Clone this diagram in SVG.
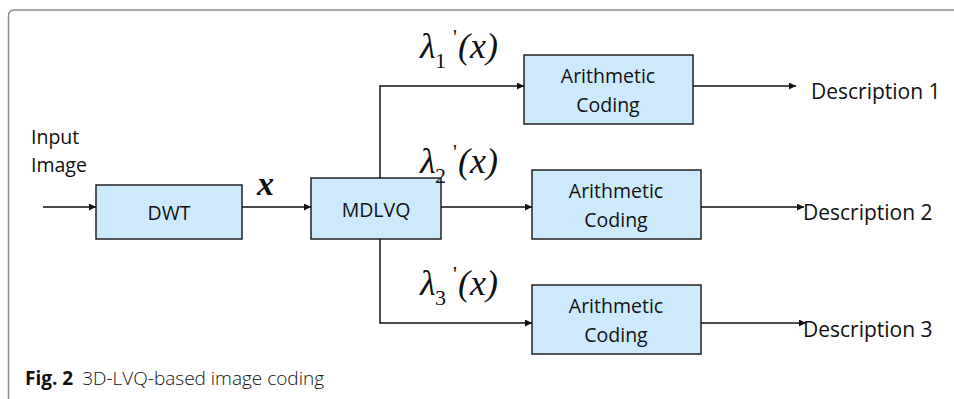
<svg xmlns="http://www.w3.org/2000/svg" width="954" height="399" viewBox="0 0 954 399">
<style>
.box{fill:#cdeafd;stroke:#222;stroke-width:1.5}
.t{font-family:"Open Sans","Noto Sans",sans-serif;font-size:19.5px;fill:#111}
.d{font-family:"Open Sans","Noto Sans",sans-serif;font-size:21px;fill:#111}
.m{font-family:"Liberation Serif","DejaVu Serif",serif;font-style:italic;font-size:36px;fill:#111}
.sub{font-family:"Liberation Serif","DejaVu Serif",serif;font-size:22px;fill:#111}
.c{stroke:#111;stroke-width:1.5;fill:none}
</style>
<defs>
<marker id="ah" viewBox="0 0 10 10" refX="10" refY="5" markerWidth="8" markerHeight="7" markerUnits="userSpaceOnUse" orient="auto">
<path d="M0,0 L10,5 L0,10 z" fill="#111"/>
</marker>
</defs>
<rect width="954" height="399" fill="#fff"/>
<path d="M8.5,399 V16 Q8.5,10 14.5,10 H954" fill="none" stroke="#8a8a8a" stroke-width="1.5"/>

<g id="input-label">
<text class="t" x="31" y="144">Input</text>
<text class="t" x="31" y="172">Image</text>
</g>

<g id="dwt">
<rect class="box" x="96" y="185" width="146" height="54"/>
<text class="t" x="169" y="220" text-anchor="middle">DWT</text>
</g>

<g id="mdlvq">
<rect class="box" x="311" y="178" width="130" height="61"/>
<text class="t" x="376" y="217" text-anchor="middle">MDLVQ</text>
</g>

<g id="ac1">
<rect class="box" x="524" y="55" width="169" height="69"/>
<text class="t" x="608" y="83" text-anchor="middle">Arithmetic</text>
<text class="t" x="608" y="112" text-anchor="middle">Coding</text>
</g>

<g id="ac2">
<rect class="box" x="532" y="170" width="169" height="69"/>
<text class="t" x="616" y="198" text-anchor="middle">Arithmetic</text>
<text class="t" x="616" y="227" text-anchor="middle">Coding</text>
</g>

<g id="ac3">
<rect class="box" x="532" y="285" width="169" height="69"/>
<text class="t" x="616" y="313" text-anchor="middle">Arithmetic</text>
<text class="t" x="616" y="342" text-anchor="middle">Coding</text>
</g>

<g id="connectors">
<line class="c" x1="43" y1="207" x2="96" y2="207" marker-end="url(#ah)"/>
<line class="c" x1="242" y1="207" x2="311" y2="207" marker-end="url(#ah)"/>
<polyline class="c" points="380,178 380,86 524,86" marker-end="url(#ah)"/>
<line class="c" x1="441" y1="207" x2="532" y2="207" marker-end="url(#ah)"/>
<polyline class="c" points="380,239 380,323 532,323" marker-end="url(#ah)"/>
<line class="c" x1="693" y1="86" x2="796" y2="86" marker-end="url(#ah)"/>
<line class="c" x1="701" y1="207" x2="804" y2="207" marker-end="url(#ah)"/>
<line class="c" x1="701" y1="323" x2="806" y2="323" marker-end="url(#ah)"/>
</g>

<g id="labels">
<text font-family="'Liberation Serif','DejaVu Serif',serif" font-style="italic" font-weight="bold" font-size="34" x="257" y="195" fill="#111">x</text>
<text class="m" x="420" y="58">λ</text><text class="sub" x="435" y="68">1</text><text class="sub" x="453" y="44">'</text><text class="m" x="458" y="58">(x)</text>
<text class="m" x="420" y="173">λ</text><text class="sub" x="435" y="183">2</text><text class="sub" x="453" y="159">'</text><text class="m" x="458" y="173">(x)</text>
<text class="m" x="420" y="295">λ</text><text class="sub" x="435" y="305">3</text><text class="sub" x="453" y="281">'</text><text class="m" x="458" y="295">(x)</text>
</g>

<g id="outputs">
<text class="d" x="811" y="99">Description 1</text>
<text class="d" x="803" y="220">Description 2</text>
<text class="d" x="803" y="337">Description 3</text>
</g>

<g id="caption">
<text font-family="'Open Sans','Noto Sans',sans-serif" font-size="19" fill="#111" x="25" y="385"><tspan font-weight="bold">Fig. 2</tspan><tspan dx="9" font-weight="300">3D-LVQ-based image coding</tspan></text>
</g>
</svg>
